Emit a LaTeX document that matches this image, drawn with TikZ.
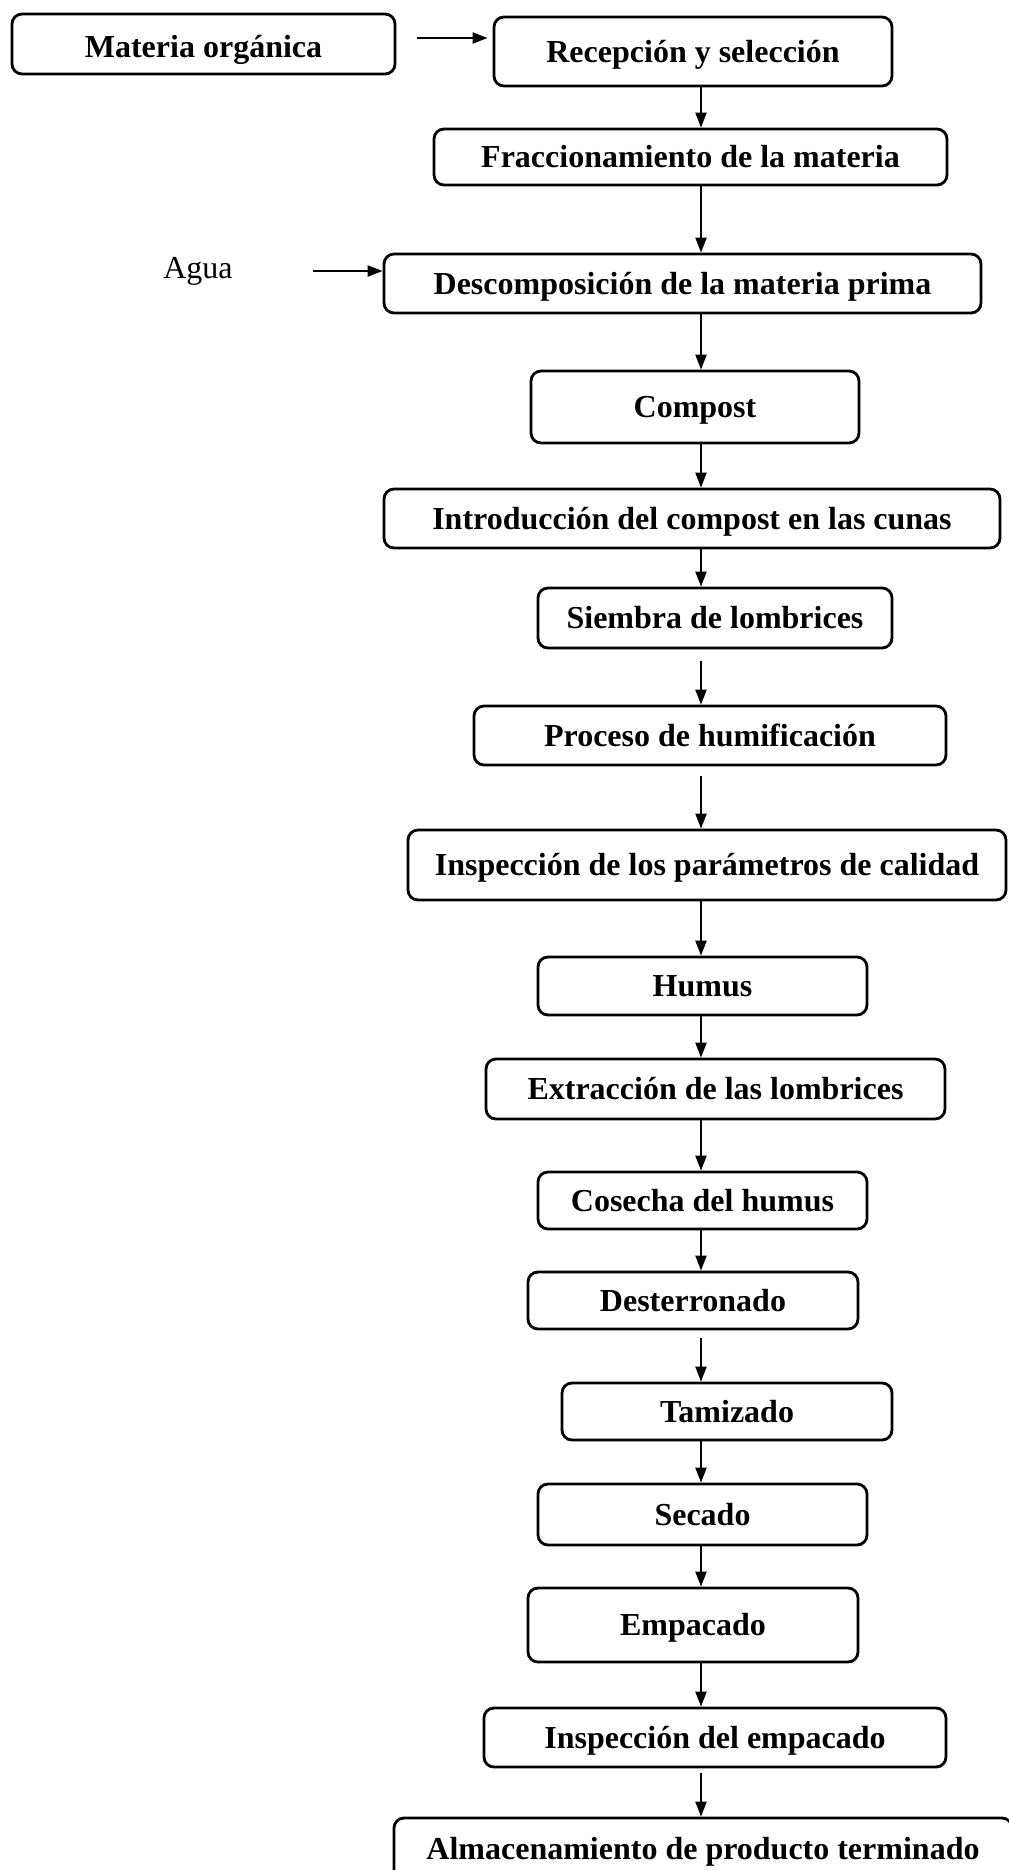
\documentclass[tikz,border=0pt]{standalone}
\usepackage{fontspec}
\setmainfont{Liberation Serif}
\usetikzlibrary{arrows.meta}

\begin{document}
\begin{tikzpicture}[x=0.5pt, y=-0.5pt,
	paso/.style={draw, line width=1.4pt, rounded corners=5pt, inner sep=2pt, text height=13.5pt, text depth=3pt, font=\fontsize{16}{19}\selectfont\bfseries},
	flecha/.style={-{Triangle[length=7.5pt, width=5.5pt]}, line width=1.1pt}]
\useasboundingbox (0,0) rectangle (1008,1870);
\coordinate (eje) at (701,0);
\coordinate (linea) at (0,38);
% cajas del proceso
\node[paso, minimum width=191.5pt, minimum height=30pt, text height=16pt] (materia) at (203.5,44) {Materia orgánica};
\node[paso, minimum width=199pt, minimum height=34.5pt] (recep) at (693,51.5) {Recepción y selección};
\node[paso, minimum width=256.5pt, minimum height=28pt] (fracc) at (690.5,157) {Fraccionamiento de la materia};
\node[inner sep=0pt, font=\fontsize{16}{19}\selectfont] (agua) at (198,271) {Agua};
\node[paso, minimum width=298.5pt, minimum height=29.5pt] (desc) at (682.5,283.5) {Descomposición de la materia prima};
\node[paso, minimum width=164pt, minimum height=36pt] (compost) at (695,407) {Compost};
\node[paso, minimum width=308pt, minimum height=29.5pt] (intro) at (692,518.5) {Introducción del compost en las cunas};
\node[paso, minimum width=177pt, minimum height=30pt] (siembra) at (715,618) {Siembra de lombrices};
\node[paso, minimum width=236pt, minimum height=29.5pt] (proceso) at (710,735.5) {Proceso de humificación};
\node[paso, minimum width=299pt, minimum height=35pt] (inspcal) at (707,865) {Inspección de los parámetros de calidad};
\node[paso, minimum width=164.5pt, minimum height=29pt] (humus) at (702.5,986) {Humus};
\node[paso, minimum width=229.5pt, minimum height=30pt] (extr) at (715.5,1089) {Extracción de las lombrices};
\node[paso, minimum width=164.5pt, minimum height=28.5pt] (cosecha) at (702.5,1200.5) {Cosecha del humus};
\node[paso, minimum width=165pt, minimum height=28.5pt] (desterr) at (693,1300.5) {Desterronado};
\node[paso, minimum width=165pt, minimum height=28.5pt] (tamiz) at (727,1411.5) {Tamizado};
\node[paso, minimum width=164.5pt, minimum height=30.5pt] (secado) at (702.5,1514.5) {Secado};
\node[paso, minimum width=165pt, minimum height=37pt] (empac) at (693,1625) {Empacado};
\node[paso, minimum width=231pt, minimum height=29.5pt] (inspemp) at (715,1737.5) {Inspección del empacado};
\node[paso, minimum width=309pt, minimum height=31pt] (almac) at (703,1849) {Almacenamiento de producto terminado};
% entradas
\draw[flecha, shorten <=10.5pt, shorten >=2.5pt] (materia.east |- linea) -- (recep.west |- linea);
\draw[flecha, shorten <=40pt] (agua.east) -- (desc.west |- agua.east);
% flechas del flujo
\draw[flecha] (recep.south -| eje) -- (fracc.north -| eje);
\draw[flecha] (fracc.south -| eje) -- (desc.north -| eje);
\draw[flecha] (desc.south -| eje) -- (compost.north -| eje);
\draw[flecha] (compost.south -| eje) -- (intro.north -| eje);
\draw[flecha] (intro.south -| eje) -- (siembra.north -| eje);
\draw[flecha, shorten <=6pt] (siembra.south -| eje) -- (proceso.north -| eje);
\draw[flecha, shorten <=5pt] (proceso.south -| eje) -- (inspcal.north -| eje);
\draw[flecha] (inspcal.south -| eje) -- (humus.north -| eje);
\draw[flecha] (humus.south -| eje) -- (extr.north -| eje);
\draw[flecha] (extr.south -| eje) -- (cosecha.north -| eje);
\draw[flecha] (cosecha.south -| eje) -- (desterr.north -| eje);
\draw[flecha, shorten <=4pt] (desterr.south -| eje) -- (tamiz.north -| eje);
\draw[flecha] (tamiz.south -| eje) -- (secado.north -| eje);
\draw[flecha] (secado.south -| eje) -- (empac.north -| eje);
\draw[flecha] (empac.south -| eje) -- (inspemp.north -| eje);
\draw[flecha, shorten <=2.5pt] (inspemp.south -| eje) -- (almac.north -| eje);
\end{tikzpicture}
\end{document}
